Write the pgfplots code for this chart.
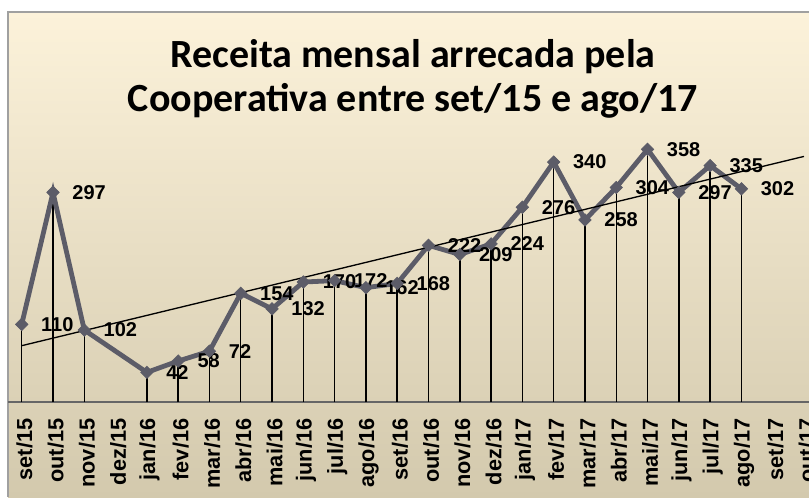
\documentclass[border=0pt]{standalone}
\usepackage{pgfplots}
\pgfplotsset{compat=1.18}
\usepackage{fontspec}
\setmainfont{Liberation Sans}
\newfontfamily\titlefont{Carlito}
\definecolor{bgtop}{HTML}{FCF2DA}
\definecolor{bgmid}{HTML}{F1E7CD}
\definecolor{bgbot}{HTML}{D3C9AD}
\definecolor{serie}{RGB}{92,92,104}
\definecolor{borda}{HTML}{A0A0A0}
\begin{document}
\begin{tikzpicture}
% page area
\fill[white] (0,0) rectangle (606.75pt,372.75pt);
\shade[top color=bgtop, middle color=bgmid, bottom color=bgbot] (6pt,0) rectangle (606.75pt,363.75pt);
\draw[borda, line width=1pt] (6pt,0) -- (6pt,363.75pt) -- (606.75pt,363.75pt);
% title
\node[anchor=base, font=\titlefont\bfseries\fontsize{30}{33}\selectfont] at (309.75pt,321.75pt) {Receita mensal arrecada pela};
\node[anchor=base, font=\titlefont\bfseries\fontsize{30}{33}\selectfont] at (309.75pt,288.75pt) {Cooperativa entre set/15 e ago/17};
\begin{axis}[
  at={(6pt,71.25pt)}, anchor=south west,
  scale only axis, width=600.75pt, height=292.5pt,
  xmin=-0.438, xmax=25.16, ymin=0, ymax=552.6,
  axis x line=bottom, axis y line=none,
  axis line style={-, draw=gray!80!black, line width=1.5pt},
  xtick={0,...,25},
  xticklabels={set/15,out/15,nov/15,dez/15,jan/16,fev/16,mar/16,abr/16,mai/16,jun/16,jul/16,ago/16,set/16,out/16,nov/16,dez/16,jan/17,fev/17,mar/17,abr/17,mai/17,jun/17,jul/17,ago/17,set/17,out/17},
  major tick length=0pt,
  xticklabel style={rotate=90, anchor=east, font=\bfseries\fontsize{16.3}{17}\selectfont, xshift=-9pt, yshift=-2pt},
  /pgf/number format/assume math mode=true,
  clip=false,
]
\addplot[ycomb, black, line width=1.1pt, mark=none] table {
x y
0 110
1 297
2 102
4 42
5 58
6 72
7 154
8 132
9 170
10 172
11 162
12 168
13 222
14 209
15 224
16 276
17 340
18 258
19 304
20 358
21 297
22 335
23 302
};
\addplot[serie, line width=3.6pt, mark=square*, mark size=3.3pt, mark options={rotate=45, line width=0.5pt},
  nodes near coords,
  every node near coord/.append style={anchor=west, xshift=11pt, text=black, font=\bfseries\fontsize{15}{16}\selectfont}
] table {
x y
0 110
1 297
2 102
4 42
5 58
6 72
7 154
8 132
9 170
10 172
11 162
12 168
13 222
14 209
15 224
16 276
17 340
18 258
19 304
20 358
21 297
22 335
23 302
};
\addplot[black, line width=1pt, mark=none] coordinates {(0,79.8) (25,348.0)};
\end{axis}
\pgfresetboundingbox
\path (0,0) rectangle (606.75pt,372.75pt);
\end{tikzpicture}
\end{document}
